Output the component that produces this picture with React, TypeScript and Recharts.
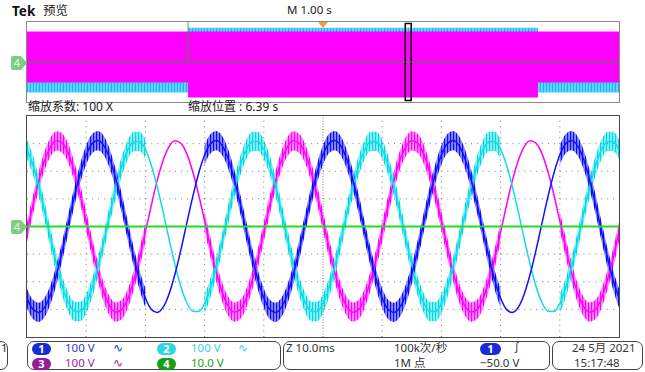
import React from "react";
import {
  ComposedChart,
  Line,
  Area,
  XAxis,
  YAxis,
  ReferenceLine,
  ReferenceArea,
  ReferenceDot,
} from "recharts";

// ---- zoomed window: 0..100 ms, 100 V/div (ch1-3), sampled every 1 ms ----
const timeMs = Array.from({ length: 101 }, (_, i) => i);

// ch1 (blue)
const ch1 = [
  -259, -300, -311, -292, -244, -172, -84, 13, 108, 193, 259, 300, 311, 292, 244, 172, 84, -13, -108, -193,
  -259, -300, -311, -292, -244, -172, -84, 13, 108, 193, 259, 300, 311, 292, 244, 172, 84, -13, -108, -193,
  -259, -300, -311, -292, -244, -172, -84, 13, 108, 193, 259, 300, 311, 292, 244, 172, 84, -13, -108, -193,
  -259, -300, -311, -292, -244, -172, -84, 13, 108, 193, 259, 300, 311, 292, 244, 172, 84, -13, -108, -193,
  -259, -300, -311, -292, -244, -172, -84, 13, 108, 193, 259, 300, 311, 292, 244, 172, 84, -13, -108, -193,
  -259,
];
// ch2 (cyan)
const ch2 = [
  279, 222, 144, 52, -46, -138, -218, -276, -307, -308, -279, -222, -144, -52, 46, 138, 218, 276, 307, 308,
  279, 222, 144, 52, -46, -138, -218, -276, -307, -308, -279, -222, -144, -52, 46, 138, 218, 276, 307, 308,
  279, 222, 144, 52, -46, -138, -218, -276, -307, -308, -279, -222, -144, -52, 46, 138, 218, 276, 307, 308,
  279, 222, 144, 52, -46, -138, -218, -276, -307, -308, -279, -222, -144, -52, 46, 138, 218, 276, 307, 308,
  279, 222, 144, 52, -46, -138, -218, -276, -307, -308, -279, -222, -144, -52, 46, 138, 218, 276, 307, 308,
  279,
];
// ch3 (magenta)
const ch3 = [
  -20, 77, 167, 240, 289, 310, 301, 263, 198, 115, 20, -77, -167, -240, -289, -310, -301, -263, -198, -115,
  -20, 77, 167, 240, 289, 310, 301, 263, 198, 115, 20, -77, -167, -240, -289, -310, -301, -263, -198, -115,
  -20, 77, 167, 240, 289, 310, 301, 263, 198, 115, 20, -77, -167, -240, -289, -310, -301, -263, -198, -115,
  -20, 77, 167, 240, 289, 310, 301, 263, 198, 115, 20, -77, -167, -240, -289, -310, -301, -263, -198, -115,
  -20, 77, 167, 240, 289, 310, 301, 263, 198, 115, 20, -77, -167, -240, -289, -310, -301, -263, -198, -115,
  -20,
];
// ch4 (green, 10 V/div) stays at 0 V in the window
const ch4Time = [0, 100];
const ch4Val = [0, 0];

// switching ripple (half height, V) is present except in two clean half-cycles
const rippleSpans = [
  [0, 20],
  [30, 80],
  [90, 100],
];
const rippleV = 35;

// ---- overview: 0..10 s, envelopes ----
const ovTime = [0, 2.72, 8.63, 10];
const ovCh3Max = [305, 305, 305, 305];
const ovCh3Min = [-205, -355, -205, -205];
const ovCh12Max = [300, 342, 300, 300];
const ovCh12Min = [-305, -340, -305, -305];
const ov4Time = [0, 2.72, 2.72, 2.72, 10];
const ov4Val = [0, 0, 40, 0, 0];
const zoomPos = 6.39; // s
const zoomWidth = 0.1; // s
const trigPos = 5.0; // s

const gridX = [10, 20, 30, 40, 50, 60, 70, 80, 90];
const gridY = [-300, -200, -100, 0, 100, 200, 300];
const minorX = Array.from({ length: 51 }, (_, i) => i * 2);
const minorY = Array.from({ length: 41 }, (_, i) => -400 + i * 20);

const rows = timeMs.map((t, i) => ({
  t,
  ch1: ch1[i],
  ch2: ch2[i],
  ch3: ch3[i],
  r: rippleSpans.some(([a, b]) => t >= a && t <= b) ? rippleV : null,
}));
const ch4Rows = ch4Time.map((t, i) => ({ t, v: ch4Val[i] }));
const ovRows = ovTime.map((t, i) => ({
  t,
  c3: [ovCh3Min[i], ovCh3Max[i]],
  c12: [ovCh12Min[i], ovCh12Max[i]],
}));
const ov4Rows = ov4Time.map((t, i) => ({ t, v: ov4Val[i] }));

const band = (key: string) => (d: any) => (d.r == null ? null : [d[key] - d.r, d[key] + d.r]);

const BLUE = "#1010ff";
const CYAN = "#10dce6";
const MAG = "#ff00ff";
const GREEN = "#22dd22";
const FONT = '"Noto Sans", "Noto Sans CJK SC", sans-serif';

function Txt({ x, y, color = "#222", size = 11.5, bold = false, children }: any) {
  return (
    <div
      style={{
        position: "absolute",
        left: x,
        top: y,
        color,
        fontSize: size,
        fontWeight: bold ? 700 : 400,
        lineHeight: "14px",
        whiteSpace: "nowrap",
        fontFamily: FONT,
      }}
    >
      {children}
    </div>
  );
}

function Pill({ x, y, color, label, w = 19 }: any) {
  return (
    <div
      style={{
        position: "absolute",
        left: x,
        top: y,
        width: w,
        height: 12,
        borderRadius: 6,
        background: color,
        color: "#fff",
        fontSize: 11,
        fontWeight: 700,
        lineHeight: "12px",
        textAlign: "center",
        fontFamily: FONT,
      }}
    >
      {label}
    </div>
  );
}

function Marker4({ y }: { y: number }) {
  return (
    <svg style={{ position: "absolute", left: 10, top: y - 7 }} width={18} height={14}>
      <path d="M1,2 Q1,0 3,0 L11,0 L17,7 L11,14 L3,14 Q1,14 1,12 Z" fill="#7dce7d" />
      <text x={7} y={11} fontSize={11} fill="#eef5ee" fontFamily={FONT} textAnchor="middle">
        4
      </text>
    </svg>
  );
}

function Box({ x, w }: { x: number; w: number }) {
  return (
    <div
      style={{
        position: "absolute",
        left: x,
        top: 341,
        width: w,
        height: 29,
        border: "1px solid #444",
        borderRadius: 7,
        boxSizing: "border-box",
      }}
    />
  );
}

function stripes(id: string, a: string, b: string) {
  return (
    <pattern id={id} width={3} height={6} patternUnits="userSpaceOnUse">
      <rect x={0} y={0} width={1.6} height={6} fill={a} />
      <rect x={1.6} y={0} width={1.4} height={6} fill={b} />
    </pattern>
  );
}

function Overview() {
  return (
    <div
      style={{
        position: "absolute",
        left: 26,
        top: 21,
        width: 594,
        height: 82,
        border: "1px solid #8a8a8a",
        boxSizing: "border-box",
      }}
    >
      <ComposedChart width={592} height={80} data={ovRows} margin={{ top: 0, right: 0, bottom: 0, left: 0 }}>
        <defs>
          {stripes("ovFringe", "#3fa0ff", "#30e8f0")}
        </defs>
        <XAxis dataKey="t" type="number" domain={[0, 10]} hide />
        <YAxis yAxisId="v" domain={[-400, 400]} hide />
        <YAxis yAxisId="v4" domain={[-40, 40]} hide />
        <Area
          yAxisId="v"
          type="stepAfter"
          dataKey="c12"
          stroke="none"
          fill="url(#ovFringe)"
          fillOpacity={1}
          isAnimationActive={false}
        />
        <Area
          yAxisId="v"
          type="stepAfter"
          dataKey="c3"
          stroke="none"
          fill={MAG}
          fillOpacity={1}
          isAnimationActive={false}
        />
        <Line
          yAxisId="v4"
          data={ov4Rows}
          dataKey="v"
          type="linear"
          stroke="#10b010"
          strokeOpacity={0.55}
          strokeWidth={1.5}
          dot={false}
          isAnimationActive={false}
        />
        <ReferenceArea
          yAxisId="v"
          x1={zoomPos}
          x2={zoomPos + zoomWidth}
          y1={-385}
          y2={385}
          fill="none"
          stroke="#000"
          strokeWidth={1.5}
        />
        <ReferenceDot
          yAxisId="v"
          x={trigPos}
          y={400}
          ifOverflow="visible"
          shape={(p: any) => (
            <polygon
              points={`${p.cx - 5},${p.cy} ${p.cx + 5},${p.cy} ${p.cx},${p.cy + 6}`}
              fill="#f5a030"
            />
          )}
        />
      </ComposedChart>
    </div>
  );
}

function MainPlot() {
  const axisProps = {
    tick: false,
    axisLine: false,
    tickLine: { stroke: "#555" },
    tickSize: 3,
    mirror: true,
  } as any;
  return (
    <div
      style={{
        position: "absolute",
        left: 26,
        top: 115,
        width: 594,
        height: 223,
        border: "1px solid #4a4a4a",
        boxSizing: "border-box",
      }}
    >
      <ComposedChart width={592} height={221} data={rows} margin={{ top: 0, right: 0, bottom: 0, left: 0 }}>
        <defs>
          {stripes("rBlue", "#0a0aff", "#8a8aff")}
          {stripes("rCyan", "#00d8e2", "#8af4fa")}
          {stripes("rMag", "#ff00ff", "#ff8cff")}
        </defs>
        <XAxis xAxisId="b" dataKey="t" type="number" domain={[0, 100]} orientation="bottom" height={0} ticks={minorX} {...axisProps} />
        <XAxis xAxisId="t" dataKey="t" type="number" domain={[0, 100]} orientation="top" height={0} ticks={minorX} {...axisProps} />
        <YAxis yAxisId="l" domain={[-400, 400]} orientation="left" width={0} ticks={minorY} {...axisProps} />
        <YAxis yAxisId="r" domain={[-400, 400]} orientation="right" width={0} ticks={minorY} {...axisProps} />
        {gridX.map((x) => (
          <ReferenceLine
            key={"gx" + x}
            xAxisId="b"
            yAxisId="l"
            x={x}
            stroke="#7a7a7a"
            strokeDasharray={x === 50 ? "1 1.76" : "1 4.52"}
          />
        ))}
        {gridY.map((y) => (
          <ReferenceLine
            key={"gy" + y}
            xAxisId="b"
            yAxisId="l"
            y={y}
            stroke="#7a7a7a"
            strokeDasharray="1 4.92"
          />
        ))}
        <Line xAxisId="b" yAxisId="l" dataKey="ch3" type="monotone" stroke={MAG} strokeWidth={1.5} dot={false} isAnimationActive={false} />
        <Line xAxisId="b" yAxisId="l" dataKey="ch2" type="monotone" stroke={CYAN} strokeWidth={1.5} dot={false} isAnimationActive={false} />
        <Line xAxisId="b" yAxisId="l" dataKey="ch1" type="monotone" stroke={BLUE} strokeWidth={1.5} dot={false} isAnimationActive={false} />
        <Area xAxisId="b" yAxisId="l" dataKey={band("ch3")} type="monotone" stroke="none" fill="url(#rMag)" fillOpacity={1} isAnimationActive={false} />
        <Area xAxisId="b" yAxisId="l" dataKey={band("ch2")} type="monotone" stroke="none" fill="url(#rCyan)" fillOpacity={1} isAnimationActive={false} />
        <Area xAxisId="b" yAxisId="l" dataKey={band("ch1")} type="monotone" stroke="none" fill="url(#rBlue)" fillOpacity={1} isAnimationActive={false} />
        <Line
          xAxisId="b"
          yAxisId="l"
          data={ch4Rows}
          dataKey="v"
          type="linear"
          stroke={GREEN}
          strokeWidth={2}
          dot={false}
          isAnimationActive={false}
        />
      </ComposedChart>
    </div>
  );
}

export default function App() {
  return (
    <div
      style={{
        position: "fixed",
        left: 0,
        top: 0,
        width: 645,
        height: 372,
        background: "#fff",
        overflow: "hidden",
        fontFamily: FONT,
      }}
    >
      <Txt x={12} y={4} size={13.5} bold color="#111">
        Tek
      </Txt>
      <Txt x={43} y={4} size={12.5} color="#222">
        预览
      </Txt>
      <Txt x={287} y={3} size={11.5} color="#222">
        M 1.00 s
      </Txt>
      <Overview />
      <Marker4 y={63} />
      <Txt x={28} y={100} size={12} color="#222">
        缩放系数: 100 X
      </Txt>
      <Txt x={188} y={100} size={12} color="#222">
        缩放位置 : 6.39 s
      </Txt>
      <MainPlot />
      <Marker4 y={227} />

      {/* status bar */}
      <Box x={-12} w={20} />
      <Txt x={1} y={341} color="#222">
        1
      </Txt>
      <Box x={27} w={254} />
      <Pill x={32} y={343} color="#1a2ad8" label="1" />
      <Txt x={65} y={341} color="#2a3ad0">100 V</Txt>
      <Txt x={113} y={341} color="#2a3ad0">∿</Txt>
      <Pill x={157} y={343} color="#2ed6e2" label="2" />
      <Txt x={191} y={341} color="#3ccfe0">100 V</Txt>
      <Txt x={238} y={341} color="#3ccfe0">∿</Txt>
      <Pill x={32} y={358} color="#9a1a9a" label="3" />
      <Txt x={65} y={356} color="#a020a8">100 V</Txt>
      <Txt x={113} y={356} color="#a020a8">∿</Txt>
      <Pill x={157} y={358} color="#1a9e1a" label="4" />
      <Txt x={191} y={356} color="#22a022">10.0 V</Txt>

      <Box x={283} w={267} />
      <Txt x={286} y={341} color="#333">Z 10.0ms</Txt>
      <Txt x={394} y={341} color="#333">100k次/秒</Txt>
      <Txt x={394} y={356} color="#333">1M 点</Txt>
      <Pill x={480} y={343} color="#1a2ad8" label="1" w={21} />
      <Txt x={511} y={341} color="#333">∫</Txt>
      <Txt x={480} y={356} color="#333">−50.0 V</Txt>

      <Box x={552} w={91} />
      <Txt x={572} y={341} color="#333">24 5月 2021</Txt>
      <Txt x={574} y={356} color="#333">15:17:48</Txt>
    </div>
  );
}
